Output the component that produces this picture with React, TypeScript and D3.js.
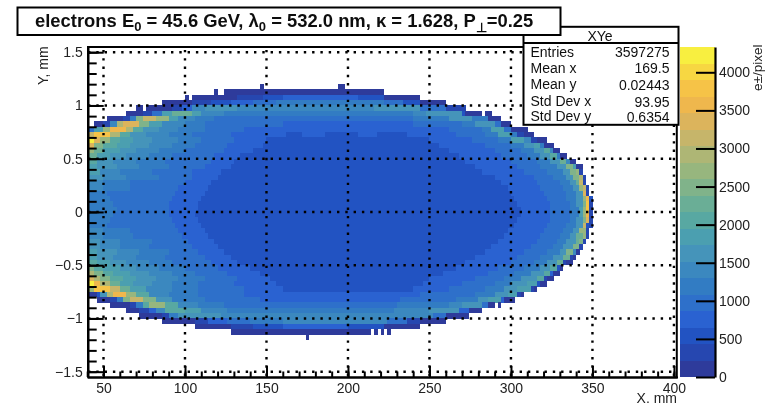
import React, { useEffect, useRef } from 'react';
import * as d3 from 'd3';

// bird palette, one colour per contour of the z axis
const palette = ['#2d3a9b', '#2647b0', '#2452c2', '#2962d1', '#2e70ca', '#337cc3', '#3b88bf', '#4494ba', '#4c9fb0', '#59a8a2',
  '#6bae96', '#80b38a', '#97b67e', '#aeb675', '#c6b56a', '#dcb45c', '#efb74e', '#f6c346', '#f7d742', '#f8ef3f'];
const zMax = 4332;
const zTicks = [0, 500, 1000, 1500, 2000, 2500, 3000, 3500, 4000];
const xTicks = [50, 100, 150, 200, 250, 300, 350, 400];
const yTicks = [-1.5, -1, -0.5, 0, 0.5, 1, 1.5];
const binX = 2;
const binY = 0.05;

const statNames = ['Entries', 'Mean x', 'Mean y', 'Std Dev x', 'Std Dev y'];
const statValues = ['3597275', '169.5', '0.02443', '93.95', '0.6354'];

// lower y edge of each row of bins
const rowEdges = [1.15, 1.1, 1.05, 1, 0.95, 0.9, 0.85, 0.8, 0.75, 0.7, 0.65, 0.6, 0.55, 0.5, 0.45, 0.4, 0.35, 0.3, 0.25, 0.2, 0.15, 0.1, 0.05, 0,
  -0.05, -0.1, -0.15, -0.2, -0.25, -0.3, -0.35, -0.4, -0.45, -0.5, -0.55, -0.6, -0.65, -0.7, -0.75, -0.8, -0.85, -0.9, -0.95, -1, -1.05, -1.1, -1.15, -1.2];

// each row: "x:contour" runs, "_" means empty bins from that x on
const rowRuns = [
  '146:0 148:_ 194:0 198:_',
  '118:0 120:_ 124:0 222:_',
  '100:0 102:_ 104:0 132:1 148:2 160:3 206:2 222:0 244:_',
  '86:0 104:1 116:2 128:3 142:4 156:5 222:4 234:2 244:0 260:_',
  '70:0 74:_ 76:0 92:1 98:3 104:6 112:7 132:6 216:7 244:4 260:1 272:_',
  '64:0 74:1 80:4 86:8 92:10 104:8 110:6 124:5 240:6 248:7 270:2 272:0 282:_ 284:0 288:_',
  '52:0 62:1 66:5 70:11 74:14 82:12 90:8 96:6 106:5 118:4 240:5 262:7 276:5 286:0 294:_',
  '44:0 50:1 54:6 58:13 62:15 72:11 78:8 86:6 100:5 112:4 160:3 240:4 270:5 278:7 290:4 294:0 300:_',
  '40:4 44:8 50:12 54:16 64:13 68:9 74:7 84:6 96:5 112:4 136:3 262:4 282:5 288:8 296:4 300:0 310:_',
  '40:14 44:17 54:13 60:9 66:7 76:6 90:5 104:4 128:3 162:2 172:3 186:2 206:3 218:2 236:3 266:4 284:5 292:8 300:5 304:1 308:0 314:_',
  '40:19 44:15 48:12 54:9 60:8 68:7 80:6 96:5 110:4 130:3 150:2 250:3 276:4 292:5 300:8 308:6 312:1 316:0 322:_',
  '40:15 44:11 50:9 58:8 66:7 78:6 92:5 106:4 126:3 148:2 256:3 284:4 300:5 308:7 314:8 318:5 320:0 326:_',
  '40:12 44:10 50:8 60:7 70:6 84:5 100:4 124:3 142:2 262:3 290:4 306:5 314:7 320:9 324:6 326:0 330:_',
  '40:10 46:8 54:7 64:6 78:5 92:4 118:3 134:2 268:3 294:4 310:5 318:7 324:9 328:5 330:0 334:_',
  '40:9 46:7 56:6 70:5 88:4 116:3 130:2 272:3 300:4 316:5 324:7 330:10 334:6 336:0 340:_',
  '40:8 46:7 58:6 72:5 90:4 112:3 128:2 278:3 304:4 318:5 328:7 334:11 338:8 340:0 344:_',
  '40:8 48:6 60:5 80:4 104:3 122:2 282:3 308:4 322:5 332:7 336:11 340:12 342:1 344:_',
  '40:7 50:6 64:5 84:4 104:3 120:2 290:3 314:4 326:5 334:7 338:11 342:13 344:1 346:_',
  '40:6 50:5 66:4 100:3 116:2 294:3 316:4 330:5 336:7 340:10 342:14 344:1 346:_',
  '40:6 50:5 66:4 96:3 114:2 298:3 318:4 332:5 338:7 342:12 344:14 346:1 348:_',
  '40:5 52:4 94:3 112:2 300:3 320:4 334:5 340:7 344:15 346:1 348:_',
  '40:5 54:4 92:3 110:2 302:3 322:4 334:5 340:7 344:12 346:16 348:2 350:_',
  '40:5 56:4 90:3 108:2 304:3 324:4 336:5 340:7 344:11 346:17 348:1 350:_',
  '40:5 58:4 90:3 108:2 306:3 324:4 336:5 342:8 344:12 346:17 348:1 350:_',
  '40:5 56:4 90:3 106:2 306:3 324:4 336:5 342:8 344:12 346:16 348:1 350:_',
  '40:5 54:4 92:3 108:2 304:3 324:4 336:5 340:7 344:11 346:15 348:1 350:_',
  '40:5 52:4 94:3 110:2 302:3 322:4 334:5 340:7 344:14 346:2 348:1 350:_',
  '40:6 50:5 66:4 96:3 112:2 298:3 320:4 332:5 338:7 342:12 346:1 348:_',
  '40:6 50:5 68:4 98:3 114:2 296:3 318:4 330:5 336:7 340:10 344:12 346:1 348:_',
  '40:7 48:6 60:5 80:4 102:3 118:2 292:3 316:4 328:5 334:7 340:10 342:11 344:1 346:_',
  '40:7 48:6 60:5 78:4 104:3 120:2 288:3 312:4 326:5 332:7 338:11 342:1 344:_',
  '40:8 46:7 58:6 72:5 90:4 108:3 124:2 284:3 308:4 322:5 330:7 334:11 338:6 340:0 342:_',
  '40:8 46:7 56:6 70:5 88:4 112:3 128:2 278:3 304:4 318:5 326:7 332:10 336:1 338:0 340:_',
  '40:9 46:8 54:7 64:6 78:5 92:4 116:3 132:2 272:3 300:4 314:5 322:7 328:10 332:1 334:0 338:_',
  '40:11 44:9 50:8 60:7 70:6 84:5 100:4 120:3 140:2 266:3 292:4 308:5 318:7 324:9 328:2 330:0 332:_',
  '40:13 44:11 50:9 56:8 66:7 78:6 92:5 106:4 126:3 146:2 258:3 286:4 302:5 312:7 320:9 324:3 326:0 330:_',
  '40:15 44:13 48:11 54:9 62:8 70:7 82:6 96:5 112:4 132:3 152:2 250:3 278:4 296:5 306:7 316:9 320:1 322:0 326:_',
  '40:19 44:16 48:13 54:10 60:8 68:7 80:6 92:5 108:4 130:3 156:2 246:3 270:4 290:5 300:7 310:8 316:2 318:0 322:_',
  '40:12 44:17 54:14 60:10 66:8 76:6 92:5 108:4 136:3 160:2 240:3 262:4 284:5 296:7 304:8 312:1 314:0 316:_',
  '40:0 46:2 48:7 52:13 56:16 64:12 70:9 78:6 90:5 108:4 136:3 244:4 278:5 290:7 298:8 304:1 306:0 308:_',
  '46:0 54:1 58:5 62:11 66:14 74:11 82:7 92:5 112:4 146:3 232:4 266:5 280:7 286:8 294:3 296:0 302:_',
  '54:0 66:1 70:5 74:9 78:12 88:9 96:6 108:5 124:4 230:5 262:6 270:7 282:4 286:0 290:_ 292:0 294:_',
  '64:0 72:1 78:3 82:6 88:9 100:8 110:6 126:5 228:6 250:7 268:3 274:0 282:_',
  '72:0 86:1 90:5 96:7 122:6 252:4 260:0 274:_',
  '86:0 106:1 114:3 126:4 140:5 160:6 224:4 236:1 244:0 260:_',
  '106:0 128:1 142:2 160:3 200:2 222:0 244:_',
  '128:0 214:_ 216:0 218:_ 220:0 222:_ 224:0 226:_',
  '174:0 176:_',
];

const App = () => {
  const svgRef = useRef<SVGSVGElement>(null);

  useEffect(() => {
    const svg = d3.select(svgRef.current);
    svg.selectAll('*').remove();

    const x = d3.scaleLinear().domain([40, 402]).range([87.2, 677.2]);
    const y = d3.scaleLinear().domain([-1.55, 1.55]).range([377, 46.9]);
    const zY = d3.scaleLinear().domain([0, zMax]).range([377, 47]);

    const defs = svg.append('defs');
    defs.append('filter').attr('id', 'soft').append('feGaussianBlur').attr('stdDeviation', 0.4);

    const root = svg.append('g').attr('filter', 'url(#soft)').style('font-family', '"Liberation Sans", Arial, sans-serif');
    root.append('rect').attr('width', 772).attr('height', 403).attr('fill', 'white');

    // expand the runs into bins
    const cells: { x0: number; y0: number; level: number }[] = [];
    rowRuns.forEach((runs, i) => {
      const tokens = runs.split(' ').map((t) => t.split(':'));
      tokens.forEach(([from, lev], j) => {
        if (lev === '_') return;
        const end = +tokens[j + 1][0];
        d3.range(+from, end, binX).forEach((x0) => cells.push({ x0, y0: rowEdges[i], level: +lev }));
      });
    });

    root.append('g').attr('shape-rendering', 'crispEdges')
      .selectAll('rect').data(cells).join('rect')
      .attr('x', (d) => x(d.x0))
      .attr('y', (d) => y(d.y0 + binY))
      .attr('width', x(binX) - x(0) + 0.3)
      .attr('height', y(0) - y(binY) + 0.3)
      .attr('fill', (d) => palette[d.level]);

    // dotted grid on top of the histogram
    const grid = root.append('g').attr('stroke', 'black').attr('stroke-width', 2.4).attr('stroke-dasharray', '2.4 5.9').attr('fill', 'none');
    grid.selectAll('.gx').data(xTicks).join('line').attr('class', 'gx')
      .attr('x1', (d) => x(d)).attr('x2', (d) => x(d)).attr('y1', 376).attr('y2', 47);
    grid.selectAll('.gy').data(yTicks).join('line').attr('class', 'gy')
      .attr('x1', 88).attr('x2', 676).attr('y1', (d) => y(d)).attr('y2', (d) => y(d));

    // colour bar
    root.append('g').attr('shape-rendering', 'crispEdges')
      .selectAll('rect').data(palette).join('rect')
      .attr('x', 680).attr('width', 35)
      .attr('y', (_, i) => zY((i + 1) * zMax / palette.length))
      .attr('height', zY(0) - zY(zMax / palette.length) + 0.4)
      .attr('fill', (d) => d);

    const styleAxis = (g: any, size: number) => {
      g.select('.domain').attr('stroke', 'black').attr('stroke-width', 2.2);
      g.selectAll('.tick line').attr('stroke', 'black').attr('stroke-width', 2);
      g.selectAll('text').attr('fill', '#222').style('font-size', `${size}px`).style('font-family', '"Liberation Sans", Arial, sans-serif');
    };
    const numFmt = (d: any) => d3.format('~g')(d);

    // x axis, major and minor ticks point into the frame
    const xMinor = root.append('g').attr('transform', 'translate(0,377)')
      .call(d3.axisBottom(x).tickValues(d3.range(40, 402, 10)).tickSize(-5.5).tickSizeOuter(0).tickFormat(() => ''));
    styleAxis(xMinor, 14);
    const xAxis = root.append('g').attr('transform', 'translate(0,377)')
      .call(d3.axisBottom(x).tickValues(xTicks).tickSizeInner(-11).tickSizeOuter(0).tickPadding(6).tickFormat(numFmt));
    styleAxis(xAxis, 14);

    const yMinor = root.append('g').attr('transform', 'translate(87.7,0)')
      .call(d3.axisLeft(y).tickValues(d3.range(-1.5, 1.55, 0.1)).tickSize(-9).tickSizeOuter(0).tickFormat(() => ''));
    styleAxis(yMinor, 14);
    const yAxis = root.append('g').attr('transform', 'translate(87.7,0)')
      .call(d3.axisLeft(y).tickValues(yTicks).tickSizeInner(-16).tickSizeOuter(0).tickPadding(5).tickFormat(numFmt));
    styleAxis(yAxis, 14);

    // rest of the frame
    root.append('line').attr('x1', 87).attr('x2', 677).attr('y1', 46.9).attr('y2', 46.9).attr('stroke', 'black').attr('stroke-width', 2);
    root.append('line').attr('x1', 676.8).attr('x2', 676.8).attr('y1', 46).attr('y2', 378).attr('stroke', 'black').attr('stroke-width', 2);

    const zAxis = root.append('g').attr('transform', 'translate(715,0)')
      .call(d3.axisRight(zY).tickValues(zTicks).tickSizeInner(-19).tickSizeOuter(0).tickPadding(4).tickFormat(d3.format('d')));
    styleAxis(zAxis, 14);

    root.append('text').attr('x', 677).attr('y', 403).attr('text-anchor', 'end').attr('fill', '#222').style('font-size', '14px').text('X, mm');
    root.append('text').attr('transform', 'translate(48,85) rotate(-90)').attr('fill', '#222').style('font-size', '14px').text('Y, mm');
    root.append('text').attr('transform', 'translate(762,91) rotate(-90)').attr('fill', '#222').style('font-size', '13.5px').text('e\u00b1/pixel');

    // stats box
    root.append('rect').attr('x', 523.5).attr('y', 26.8).attr('width', 155).attr('height', 98).attr('fill', 'white').attr('stroke', 'black').attr('stroke-width', 2);
    root.append('line').attr('x1', 523.5).attr('x2', 678.5).attr('y1', 43).attr('y2', 43).attr('stroke', 'black').attr('stroke-width', 2);
    root.append('text').attr('x', 600).attr('y', 41).attr('text-anchor', 'middle').attr('fill', '#111').style('font-size', '14px').text('XYe');
    const statY = [57, 73, 89, 106, 121];
    statNames.forEach((name, i) => {
      root.append('text').attr('x', 530.5).attr('y', statY[i]).attr('fill', '#111').style('font-size', '14px').text(name);
      root.append('text').attr('x', 669.5).attr('y', statY[i] + (i > 1 ? 1 : 0)).attr('text-anchor', 'end').attr('fill', '#111').style('font-size', '14px').text(statValues[i]);
    });

    // title box sits over the stats box
    root.append('rect').attr('x', 17.5).attr('y', 7.5).attr('width', 543).attr('height', 27.5).attr('fill', 'white').attr('stroke', 'black').attr('stroke-width', 2);
    const title = root.append('text').attr('x', 35).attr('y', 27).attr('fill', '#111').style('font-size', '18.4px').style('font-weight', 'bold');
    title.append('tspan').text('electrons E');
    title.append('tspan').attr('dy', 4).style('font-size', '13px').text('0');
    title.append('tspan').attr('dy', -4).text(' = 45.6 GeV, \u03bb');
    title.append('tspan').attr('dy', 4).style('font-size', '13px').text('0');
    title.append('tspan').attr('dy', -4).text(' = 532.0 nm, \u03ba = 1.628, P');
    title.append('tspan').attr('dy', 5).style('font-size', '13px').text('\u22a5');
    title.append('tspan').attr('dy', -5).text('=0.25');
  }, []);

  return <svg ref={svgRef} width={772} height={403} style={{ position: 'absolute', left: 0, top: 0, display: 'block' }} />;
};

export default App;
